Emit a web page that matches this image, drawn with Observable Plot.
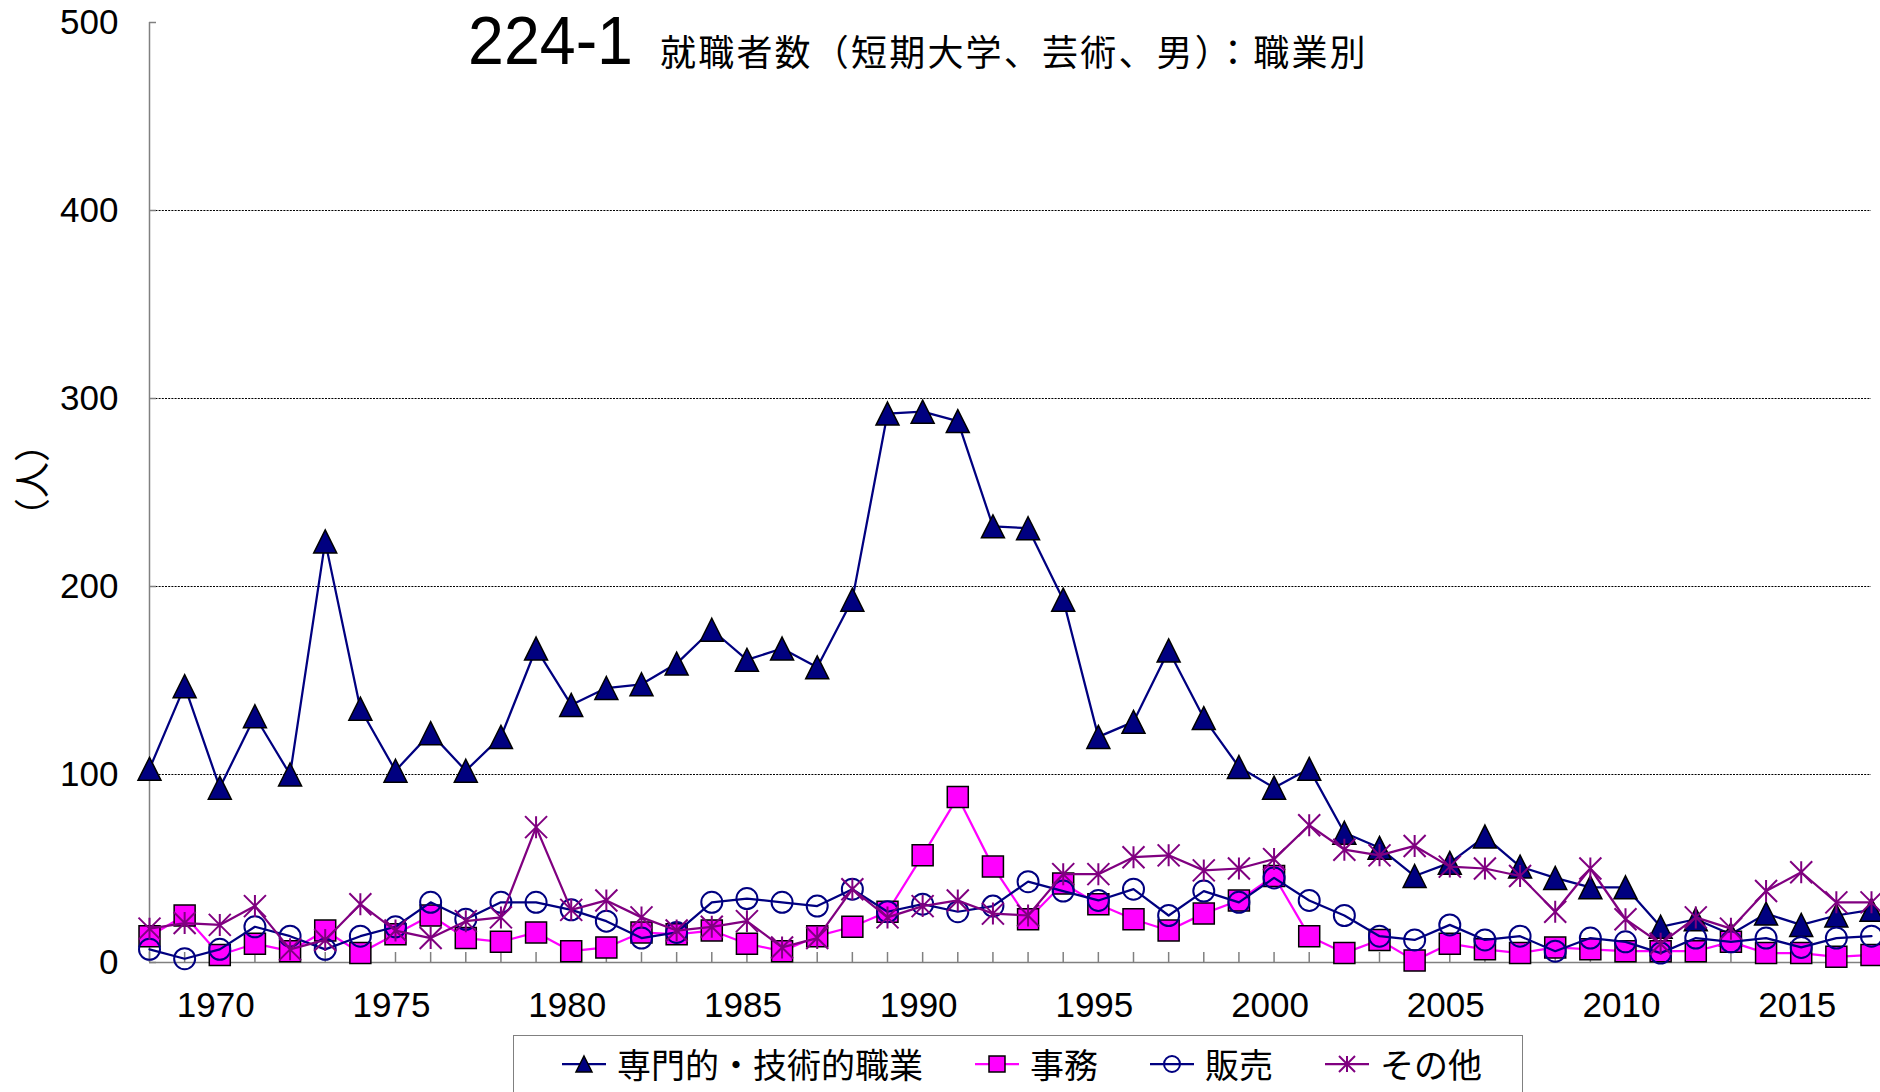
<!DOCTYPE html>
<html><head><meta charset="utf-8">
<script src="https://cdn.jsdelivr.net/npm/d3@7"></script>
<script src="https://cdn.jsdelivr.net/npm/@observablehq/plot@0.6"></script>
<style>
body{margin:0;background:#fff;}
#wrap{position:relative;width:1880px;height:1092px;overflow:hidden;background:#fff;}
#overlay{position:absolute;left:0;top:0;pointer-events:none;}
#legend{position:absolute;left:513px;top:1035px;width:1010px;height:70px;box-sizing:border-box;border:1.5px solid #808080;display:flex;align-items:flex-start;padding-left:48px;padding-top:8px;font-family:"Noto Sans CJK JP","Noto Sans",sans-serif;font-size:34px;line-height:40px;color:#000;white-space:nowrap;}
.item{display:flex;align-items:center;margin-right:52px;flex-shrink:0;white-space:nowrap;}
.item:last-child{margin-right:0;}
.item svg{margin-right:11px;flex-shrink:0;}
</style></head><body>
<div id="wrap">
<div id="chart"></div>
<svg id="overlay" width="1880" height="1030">
  <text x="468" y="64" textLength="165" lengthAdjust="spacingAndGlyphs" font-family="'Liberation Sans', Arial, sans-serif" font-size="69">224-1</text>
  <text x="660" y="66" font-family="'Noto Sans CJK JP', sans-serif" font-size="36" letter-spacing="2.2">就職者数（短期大学、芸術、男）：職業別</text>
  <text transform="translate(46,480) rotate(-90)" text-anchor="middle" font-family="'Noto Sans CJK JP', sans-serif" font-size="36">（人）</text>
</svg>
<div id="legend"></div>
</div>
<script>
const years = [1968,1969,1970,1971,1972,1973,1974,1975,1976,1977,1978,1979,1980,1981,1982,1983,1984,1985,1986,1987,1988,1989,1990,1991,1992,1993,1994,1995,1996,1997,1998,1999,2000,2001,2002,2003,2004,2005,2006,2007,2008,2009,2010,2011,2012,2013,2014,2015,2016,2017];
const professional = [103,147,93,131,100,224,135,102,122,102,120,167,137,146,148,159,177,161,167,157,193,292,293,288,232,231,193,120,128,166,130,104,93,103,69,61,46,53,67,51,45,40,40,19,23,15,26,20,25,28];
const clerical = [14,25,4,10,6,17,5,15,25,13,11,16,6,8,16,15,17,10,6,14,19,27,57,88,51,23,42,31,23,17,26,33,46,14,5,12,1,10,7,5,8,7,6,6,6,11,5,5,3,4];
const sales = [7,2,7,19,14,7,14,19,32,23,32,32,28,22,13,16,32,34,32,30,39,27,31,27,30,43,38,33,39,25,38,32,45,33,25,14,12,20,12,14,6,13,11,5,13,11,13,8,13,14];
const other = [18,21,20,30,7,12,31,17,13,22,24,72,28,33,24,17,19,22,8,13,39,24,30,33,26,25,47,47,56,57,49,50,55,73,60,57,62,51,50,46,27,50,23,10,24,18,38,48,32,32];
const seriesNames = ["専門的・技術的職業","事務","販売","その他"];
const yTicks = [0,100,200,300,400,500];
const gridValues = [100,200,300,400];
const xLabelTicks = [1970,1975,1980,1985,1990,1995,2000,2005,2010,2015];

const triangle = {draw(ctx, size){const s = Math.sqrt(size/Math.PI); ctx.moveTo(0,-s); ctx.lineTo(s,s); ctx.lineTo(-s,s); ctx.closePath();}};
const square = {draw(ctx, size){const s = Math.sqrt(size/Math.PI); ctx.rect(-s,-s,2*s,2*s);}};
const circle = {draw(ctx, size){const s = Math.sqrt(size/Math.PI); ctx.moveTo(s,0); ctx.arc(0,0,s,0,2*Math.PI);}};
const asterisk = {draw(ctx, size){const s = Math.sqrt(size/Math.PI); ctx.moveTo(-s,-s); ctx.lineTo(s,s); ctx.moveTo(-s,s); ctx.lineTo(s,-s); ctx.moveTo(0,-s); ctx.lineTo(0,s);}};

const styles = [
  {values: professional, line: "#000080", symbol: triangle, r: 11.5, fill: "#000080", stroke: "#000", sw: 1.5},
  {values: clerical, line: "#FF00FF", symbol: square, r: 10.5, fill: "#FF00FF", stroke: "#000", sw: 1.5},
  {values: sales, line: "#000080", symbol: circle, r: 10.5, fill: "none", stroke: "#000080", sw: 2},
  {values: other, line: "#800080", symbol: asterisk, r: 11, fill: "none", stroke: "#800080", sw: 2}
];

const seriesMarks = styles.flatMap((st, k) => {
  const data = years.map((year, i) => ({year, value: st.values[i], series: seriesNames[k]}));
  return [
    Plot.line(data, {x: "year", y: "value", stroke: st.line, strokeWidth: 2.25}),
    Plot.dot(data, {x: "year", y: "value", symbol: st.symbol, r: st.r, fill: st.fill, stroke: st.stroke, strokeWidth: st.sw})
  ];
});

const chart = Plot.plot({
  width: 1880, height: 1030,
  marginLeft: 149, marginRight: 9, marginTop: 22, marginBottom: 68,
  x: {domain: [1968, 2017]},
  y: {domain: [0, 500]},
  style: {fontFamily: "'Liberation Sans', Arial, sans-serif", fontSize: "35px", background: "white", color: "#000"},
  marks: [
    Plot.ruleY(gridValues, {stroke: "#000", strokeDasharray: "2,1.2", strokeWidth: 1}),
    Plot.axisY({ticks: yTicks, tickSize: -7, tickFormat: () => "", stroke: "#808080", strokeWidth: 1.5, label: null}),
    Plot.axisY({ticks: yTicks, tickSize: 0, tickPadding: 31, tickFormat: d => String(d), label: null, fontSize: 35}),
    Plot.axisX({ticks: years, tickSize: -10, tickFormat: () => "", stroke: "#808080", strokeWidth: 1.5, label: null}),
    Plot.axisX({ticks: xLabelTicks, tickSize: 0, tickPadding: 30, dx: -4, tickFormat: d => String(d), label: null, fontSize: 35}),
    Plot.ruleX([1968], {stroke: "#808080", strokeWidth: 1.5}),
    Plot.ruleY([0], {stroke: "#808080", strokeWidth: 1.5}),
    ...seriesMarks
  ]
});
document.getElementById("chart").appendChild(chart);

// legend
const legend = d3.select("#legend");
styles.forEach((st, k) => {
  const item = legend.append("div").attr("class", "item");
  const svg = item.append("svg").attr("width", 44).attr("height", 30);
  svg.append("line").attr("x1", 0).attr("x2", 44).attr("y1", 15).attr("y2", 15).attr("stroke", st.line).attr("stroke-width", 2.25);
  svg.append("path").attr("transform", "translate(22,15)")
    .attr("d", d3.symbol(st.symbol, Math.PI * 8 * 8)())
    .attr("fill", st.fill).attr("stroke", st.stroke).attr("stroke-width", st.sw);
  item.append("span").text(seriesNames[k]);
});
</script>
</body></html>
